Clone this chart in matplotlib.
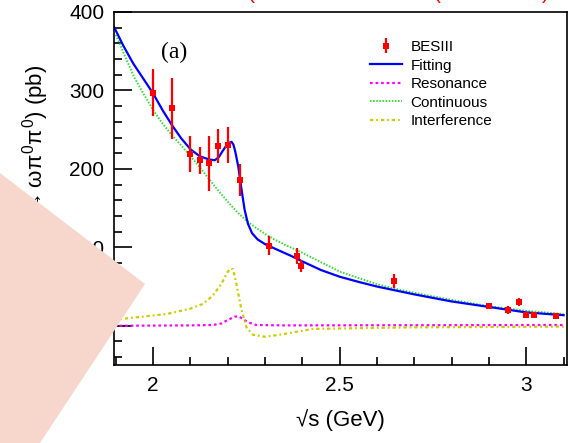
import numpy as np
import matplotlib
matplotlib.use('Agg')
import matplotlib.pyplot as plt
from matplotlib.ticker import MultipleLocator, FuncFormatter
from matplotlib.patches import Polygon

plt.rcParams['font.family'] = ['Liberation Sans', 'DejaVu Sans']
plt.rcParams['mathtext.fontset'] = 'custom'
plt.rcParams['mathtext.rm'] = 'Liberation Sans'
plt.rcParams['mathtext.it'] = 'Liberation Sans'

# BESIII data points
energy = [2.0, 2.05, 2.1, 2.125, 2.15, 2.175, 2.2, 2.2324, 2.3094, 2.3864, 2.396,
          2.6444, 2.9, 2.95, 2.981, 3.0, 3.02, 3.08]
xsec = [297, 277, 219, 211, 207, 229, 231, 186, 102, 89, 76,
        57, 25, 20, 30, 14, 14, 12]
xsec_err = [30, 39, 23, 17, 35, 22, 23, 20, 12, 10, 8,
            9, 3, 5, 5, 3, 3, 3]

# curves
fit_x = [1.895, 1.92, 1.947, 1.975, 2.0, 2.025, 2.05, 2.075, 2.1, 2.125, 2.15,
         2.165, 2.176, 2.185, 2.195, 2.203, 2.21, 2.215, 2.22, 2.228, 2.236, 2.245,
         2.254, 2.265, 2.28, 2.3, 2.33, 2.37, 2.4, 2.45, 2.5, 2.55, 2.6, 2.7,
         2.8, 2.9, 3.0, 3.1]
fit_y = [381, 357, 334, 314, 296, 275, 256, 239, 225, 216, 212,
         211, 215, 222, 229, 233, 234.5, 231, 222, 203, 176, 148,
         130, 118, 110, 104, 97.5, 89, 82, 71, 62.5, 56, 50, 40,
         31, 24, 17, 13.5]

cont_x = [1.90, 1.925, 1.95, 1.975, 2.0, 2.025, 2.05, 2.075, 2.1, 2.125, 2.15,
          2.175, 2.2, 2.225, 2.25, 2.275, 2.3, 2.325, 2.35, 2.4, 2.45, 2.5,
          2.55, 2.6, 2.65, 2.7, 2.8, 2.9, 3.0, 3.1]
cont_y = [371, 343, 316, 295, 275, 258, 243, 230, 216, 202, 187,
          172, 158, 145, 134, 125, 117, 110, 104, 93, 81, 69,
          61, 53, 47, 42, 33, 25, 19, 15]

res_x = [1.895, 2.1, 2.16, 2.183, 2.2, 2.218, 2.23, 2.24, 2.254, 2.276, 2.35, 3.1]
res_y = [0, 0.5, 1, 3, 7.4, 11.6, 12, 8.7, 4.5, 1, 0.5, 1]

intf_x = [1.895, 1.911, 2.036, 2.098, 2.134, 2.16, 2.183, 2.199, 2.208, 2.214, 2.223,
          2.236, 2.25, 2.267, 2.299, 2.339, 2.427, 2.694, 3.1]
intf_y = [8, 8.5, 15, 21.6, 28, 38.6, 53.5, 68.4, 73, 72, 53.5,
          21.6, -2, -11.4, -14, -11.4, -4, -2, -1]

fig = plt.figure(figsize=(5.68, 4.43), dpi=100)
ax = fig.add_axes([114 / 568, 1 - 365 / 443, 453 / 568, 353 / 443])

ax.plot(cont_x, cont_y, color='#33e033', lw=1.4, linestyle=(0, (0.8, 0.8)), label='Continuous')
ax.plot(res_x, res_y, color='#ff00ff', lw=1.6, linestyle=(0, (1.2, 1.3)), label='Resonance')
ax.plot(intf_x, intf_y, color='#cccc00', lw=1.6, linestyle=(0, (1.5, 1.3, 0.8, 1.3)), label='Interference')
ax.plot(fit_x, fit_y, color='#0000ff', lw=1.6, label='Fitting')
eb = ax.errorbar(energy, xsec, yerr=xsec_err, fmt='s', color='red', ms=5, mew=0,
                 elinewidth=1.6, capsize=0, label='BESIII', zorder=5)

ax.set_xlim(1.895, 3.109)
ax.set_ylim(-50, 400)
ax.xaxis.set_major_locator(MultipleLocator(0.5))
ax.xaxis.set_minor_locator(MultipleLocator(0.1))
ax.yaxis.set_major_locator(MultipleLocator(100))
ax.yaxis.set_minor_locator(MultipleLocator(20))
ax.xaxis.set_major_formatter(FuncFormatter(lambda v, p: '%g' % v))
ax.tick_params(which='both', direction='in', top=False, right=False, labelsize=15, width=1.2)
ax.tick_params(which='major', length=13)
ax.tick_params(which='minor', length=6)
ax.tick_params(axis='x', pad=8)
ax.tick_params(axis='y', pad=7)
for s in ax.spines.values():
    s.set_linewidth(1.2)

ax.set_xlabel('√s (GeV)', fontsize=16, labelpad=10)
ax.set_ylabel(r'$\sigma(e^{+}e^{-}\rightarrow\omega\pi^{0}\pi^{0})$ (pb)', fontsize=16, loc='top')
ax.yaxis.set_label_coords(-0.139, 0.85)

ax.text(2.055, 348, '(a)', fontsize=17, family='Liberation Serif', ha='center', va='center')

handles, labels = ax.get_legend_handles_labels()
order = ['BESIII', 'Fitting', 'Resonance', 'Continuous', 'Interference']
hmap = dict(zip(labels, handles))
ax.legend([hmap[k] for k in order], order, loc='upper left',
          bbox_to_anchor=(370 / 568, 1 - 40 / 443), bbox_transform=fig.transFigure,
          frameon=False, fontsize=11, handlelength=2.1, handletextpad=0.55,
          labelspacing=0.3, borderpad=0, borderaxespad=0)

# partially cut red caption at the very top
for xp, ch in [(251, '('), (437, '('), (545, ')')]:
    fig.text(xp / 568, 1 + 1 / 443, ch, color='red', fontsize=15, ha='center', va='baseline')

# pale overlay in the lower left corner
fig.add_artist(Polygon([(0, 1 - 173 / 443), (145 / 568, 1 - 284 / 443), (37 / 568, -0.01), (0, -0.01)],
                       closed=True, transform=fig.transFigure, facecolor='#f7d6cc',
                       edgecolor='none', zorder=10))

fig.savefig('out.png', dpi=100)
